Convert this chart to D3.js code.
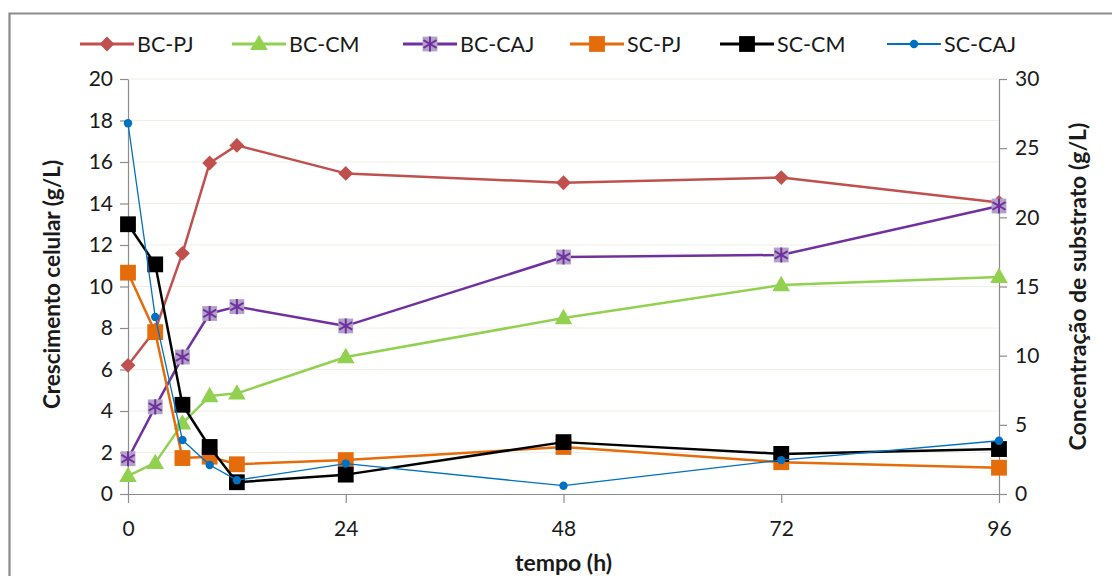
<!DOCTYPE html>
<html lang="pt">
<head>
<meta charset="UTF-8">
<title>Crescimento celular e substrato</title>
<style>
    html, body { margin: 0; padding: 0; background: #fff; }
    svg text { font-family: Lato, "Noto Sans", sans-serif; fill: #1a1a1a; }
</style>
</head>
<body>
<div id="chart"></div>
<script src="https://cdn.jsdelivr.net/npm/d3@7"></script>
<script>
// tempo de amostragem (h)
const hours = [0, 3, 6, 9, 12, 24, 48, 72, 96];

// crescimento celular (g/L) - eixo esquerdo
const bcPJ  = [6.2, 7.9, 11.6, 15.95, 16.8, 15.45, 15.0, 15.25, 14.05];
const bcCM  = [0.87, 1.5, 3.4, 4.72, 4.85, 6.6, 8.48, 10.07, 10.46];
const bcCAJ = [1.7, 4.2, 6.6, 8.7, 9.03, 8.1, 11.42, 11.52, 13.88];

// concentracao de substrato (g/L) - eixo direito
const scPJ  = [16.0, 11.7, 2.6, 2.7, 2.15, 2.45, 3.4, 2.3, 1.9];
const scCM  = [19.5, 16.6, 6.45, 3.4, 0.85, 1.4, 3.75, 2.9, 3.25];
const scCAJ = [26.8, 12.8, 3.9, 2.1, 1.0, 2.2, 0.6, 2.45, 3.85];

const xTicks = [0, 24, 48, 72, 96];
const leftTicks = d3.range(0, 21, 2);
const rightTicks = d3.range(0, 31, 5);

const series = [
    { name: "BC-PJ",  values: bcPJ,  axis: "left",  color: "#c0504d", width: 2.5, marker: "diamond" },
    { name: "BC-CM",  values: bcCM,  axis: "left",  color: "#92d050", width: 2.5, marker: "triangle" },
    { name: "BC-CAJ", values: bcCAJ, axis: "left",  color: "#7030a0", width: 2.5, marker: "star" },
    { name: "SC-PJ",  values: scPJ,  axis: "right", color: "#e46c0a", width: 2.5, marker: "square" },
    { name: "SC-CM",  values: scCM,  axis: "right", color: "#000000", width: 2.5, marker: "square" },
    { name: "SC-CAJ", values: scCAJ, axis: "right", color: "#0070c0", width: 1.3, marker: "circle" }
];

const W = 1112, H = 576;
const margin = { top: 79, right: 113, bottom: 82, left: 128 };
const width = W - margin.left - margin.right;
const height = H - margin.top - margin.bottom;

const svg = d3.select("#chart").append("svg")
    .attr("width", W)
    .attr("height", H);

// chart frame (only left and top edges fall inside the picture)
svg.append("path")
    .attr("d", `M9.5,${H} L9.5,13.5 L${W},13.5`)
    .attr("fill", "none")
    .attr("stroke", "#8c8c8c")
    .attr("stroke-width", 2.2);

const g = svg.append("g").attr("transform", `translate(${margin.left},${margin.top})`);

const x = d3.scaleLinear().domain([0, 96]).range([0, width]);
const yL = d3.scaleLinear().domain([0, 20]).range([height, 0]);
const yR = d3.scaleLinear().domain([0, 30]).range([height, 0]);

// faint gridlines
g.append("g")
    .selectAll("line")
    .data(leftTicks.filter(d => d > 0))
    .join("line")
    .attr("x1", 0).attr("x2", width)
    .attr("y1", d => yL(d)).attr("y2", d => yL(d))
    .attr("stroke", "#efefe6")
    .attr("stroke-width", 1);

function styleAxis(sel) {
    sel.select(".domain").attr("stroke", "#8c8c8c").attr("stroke-width", 1.2);
    sel.selectAll(".tick line").attr("stroke", "#8c8c8c").attr("stroke-width", 1.2);
    sel.selectAll(".tick text").attr("font-size", 21).attr("fill", "#1a1a1a")
        .style("font-family", "Lato, 'Noto Sans', sans-serif");
}

g.append("g")
    .call(d3.axisLeft(yL).tickValues(leftTicks).tickSize(8).tickPadding(7).tickSizeOuter(0))
    .call(styleAxis);

g.append("g")
    .attr("transform", `translate(${width},0)`)
    .call(d3.axisRight(yR).tickValues(rightTicks).tickSize(8).tickPadding(8).tickSizeOuter(0))
    .call(styleAxis);

g.append("g")
    .attr("transform", `translate(0,${height})`)
    .call(d3.axisBottom(x).tickValues(xTicks).tickSize(9).tickPadding(18).tickSizeOuter(0))
    .call(styleAxis);

// axis titles
svg.append("text")
    .attr("transform", `translate(60,${margin.top + height / 2 - 2}) rotate(-90)`)
    .attr("text-anchor", "middle")
    .attr("font-size", 22.5)
    .attr("font-weight", "bold")
    .text("Crescimento celular (g/L)");

svg.append("text")
    .attr("transform", `translate(1086,${margin.top + height / 2}) rotate(-90)`)
    .attr("text-anchor", "middle")
    .attr("font-size", 23)
    .attr("font-weight", "bold")
    .text("Concentração de substrato (g/L)");

svg.append("text")
    .attr("x", margin.left + width / 2)
    .attr("y", 571)
    .attr("text-anchor", "middle")
    .attr("font-size", 23)
    .attr("font-weight", "bold")
    .text("tempo (h)");

// markers
function drawMarker(sel, s) {
    if (s.marker === "diamond") {
        sel.append("path")
            .attr("d", d3.symbol(d3.symbolSquare, 110)())
            .attr("transform", "rotate(45)")
            .attr("fill", s.color);
    } else if (s.marker === "triangle") {
        sel.append("path")
            .attr("d", d3.symbol(d3.symbolTriangle, 135)())
            .attr("transform", "translate(0,1)")
            .attr("fill", s.color);
    } else if (s.marker === "square") {
        sel.append("path")
            .attr("d", d3.symbol(d3.symbolSquare, 250)())
            .attr("fill", s.color);
    } else if (s.marker === "circle") {
        sel.append("path")
            .attr("d", d3.symbol(d3.symbolCircle, 55)())
            .attr("fill", s.color);
    } else if (s.marker === "star") {
        sel.append("path")
            .attr("d", d3.symbol(d3.symbolSquare, 220)())
            .attr("fill", "#b3a2c7");
        sel.append("path")
            .attr("d", d3.symbol(d3.symbolAsterisk, 160)())
            .attr("fill", "none")
            .attr("stroke", s.color)
            .attr("stroke-width", 2);
    }
}

series.forEach(s => {
    const y = s.axis === "left" ? yL : yR;
    const pts = hours.map((h, i) => [h, s.values[i]]);
    const line = d3.line().x(d => x(d[0])).y(d => y(d[1]));
    const sg = g.append("g");
    sg.append("path")
        .datum(pts)
        .attr("d", line)
        .attr("fill", "none")
        .attr("stroke", s.color)
        .attr("stroke-width", s.width)
        .attr("stroke-linejoin", "round");
    sg.selectAll("g.pt")
        .data(pts)
        .join("g")
        .attr("class", "pt")
        .attr("transform", d => `translate(${x(d[0])},${y(d[1])})`)
        .each(function () { drawMarker(d3.select(this), s); });
});

// legend
const legendX = [80, 232, 403, 570, 720, 887];
const legend = svg.append("g");
series.forEach((s, i) => {
    const lg = legend.append("g").attr("transform", `translate(${legendX[i]},44)`);
    lg.append("line")
        .attr("x1", 0).attr("x2", 54)
        .attr("stroke", s.color)
        .attr("stroke-width", s.width + 0.5);
    drawMarker(lg.append("g").attr("transform", "translate(27,0)"), s);
    lg.append("text")
        .attr("x", 57)
        .attr("y", 0)
        .attr("dy", "0.36em")
        .attr("font-size", 21.5)
        .text(s.name);
});
</script>
</body>
</html>
